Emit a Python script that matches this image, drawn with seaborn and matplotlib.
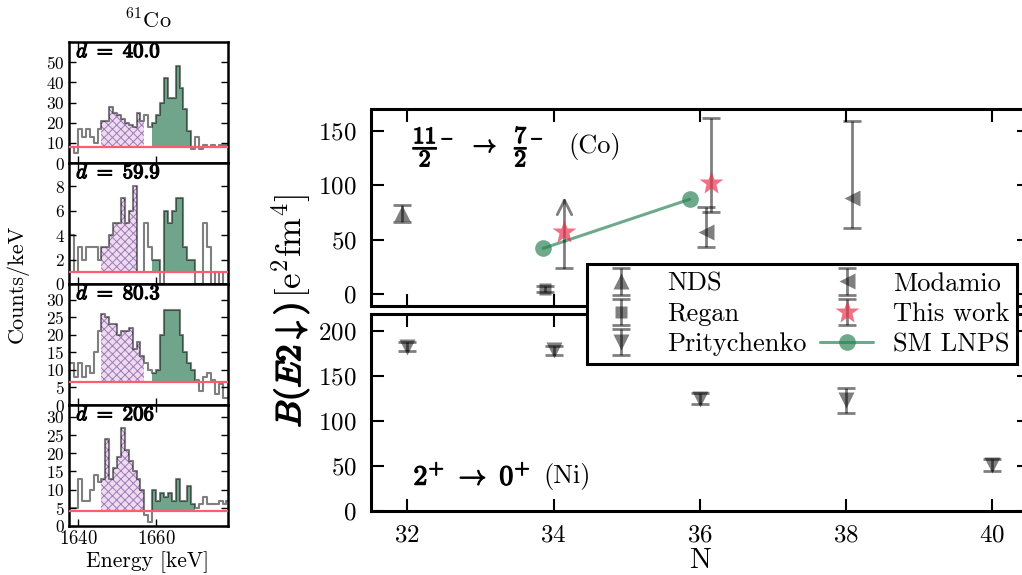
import numpy as np
import pandas as pd
import matplotlib
matplotlib.use("Agg")
import matplotlib.pyplot as plt
import matplotlib.patheffects as pe
import seaborn as sns

# ---------------- 61Co gamma spectra (counts/keV, 1 keV bins from 1637 keV) ----------------
bin_start_kev = 1637
spec_d40 = [8, 8, 5, 17, 13, 17, 13, 10, 17,
            21, 21, 28, 25, 24, 22, 20, 19, 18, 25, 21,
            24, 18,
            20, 24, 30, 42, 32, 32, 48, 37, 27, 16,
            7, 13, 7, 9, 8, 9, 8, 9, 9, 9]
spec_d60 = [4, 4, 1, 3, 2, 3, 3, 3, 2,
            3, 3, 4, 5, 5, 7, 5, 6, 8, 1, 1,
            5, 3,
            2, 2, 0, 6, 5, 6, 7, 7, 3, 2,
            2, 0, 0, 5, 3, 0, 1, 0, 1, 1]
spec_d80 = [12, 12, 8, 12, 8, 11, 9, 15, 21,
            26, 25, 23, 23, 20, 21, 21, 22, 16, 18, 14,
            12, 10,
            9, 10, 20, 27, 27, 27, 27, 20, 15, 12,
            10, 7, 4, 8, 9, 7, 3, 6, 2, 2]
spec_d206 = [5, 5, 5, 13, 7, 7, 10, 14, 12,
             13, 24, 13, 16, 19, 27, 21, 18, 15, 13, 10,
             3, 1,
             10, 7, 9, 8, 9, 7, 13, 7, 7, 11,
             6, 5, 6, 8, 6, 6, 6, 7, 6, 7]
spectra = [spec_d40, spec_d60, spec_d80, spec_d206]
distance_labels = ["40.0", "59.9", "80.3", "206"]
background_levels = [8.0, 1.0, 6.5, 4.0]
peak_a_window = (1646, 1657)   # hatched region
peak_b_window = (1659, 1670)   # green region

# ---------------- B(E2) systematics ----------------
nds_N, nds_B, nds_err = [32], [74], [8]
regan_N, regan_B, regan_err = [34], [4.5], [3]
modamio_N, modamio_B = [36, 38], [57, 88]
modamio_err_lo, modamio_err_hi = [14, 27], [23, 71]
thiswork_N, thiswork_B = [36], [102]
thiswork_err_lo, thiswork_err_hi = [27], [60]
thiswork_limit_N, thiswork_limit_B = [34], [57]
thiswork_limit_low, thiswork_limit_arrow = [24], [89]
sm_N, sm_B = [34, 36], [42, 87]
prit_N = [32, 34, 36, 38, 40]
prit_B = [183, 179, 125, 123, 51]
prit_err = [5, 5, 6, 14, 7]

# ---------------- style ----------------
sns.set_style("ticks")
plt.rcParams.update({
    "font.family": "serif",
    "font.serif": ["cmr10"],
    "mathtext.fontset": "cm",
    "axes.formatter.use_mathtext": True,
    "axes.unicode_minus": False,
    "hatch.linewidth": 0.7,
    "axes.edgecolor": "k",
    "xtick.color": "k",
    "ytick.color": "k",
    "text.color": "k",
    "axes.labelcolor": "k",
})

GRAY = (0, 0, 0, 0.5)
STAR_RED = (0.91, 0.19, 0.29, 0.68)
SM_GREEN = (0.16, 0.50, 0.33, 0.68)
FILL_GREEN = (0.18, 0.48, 0.33, 0.68)
BG_RED = "#ff5c70"
BOLD = [pe.withStroke(linewidth=0.9, foreground="k")]
x_shift = {"nds": -0.07, "regan": -0.11, "modamio": 0.08, "thiswork": 0.15,
           "sm": -0.14, "prit": 0.0}

W, H = 1022, 575
fig = plt.figure(figsize=(W / 100, H / 100), dpi=100)


def fig_rect(left, top, right, bottom):
    return [left / W, 1 - bottom / H, (right - left) / W, (bottom - top) / H]


# ---------------- left column: spectra ----------------
panel_ylims = [60, 9.9, 34.5, 33.3]
panel_yticks = [np.arange(0, 51, 10), np.arange(0, 9, 2),
                np.arange(0, 31, 5), np.arange(0, 31, 5)]
for i, spec in enumerate(spectra):
    top = 42 + 121 * i
    ax = fig.add_axes(fig_rect(69, top, 228, top + 121))
    counts = np.asarray(spec, dtype=float)
    edges = bin_start_kev + np.arange(len(counts) + 1)
    df = pd.DataFrame({"energy": edges[:-1] + 0.5, "counts": counts})
    bg = background_levels[i]
    upper = np.maximum(np.append(counts, counts[-1]), bg)

    m_a = (edges >= peak_a_window[0]) & (edges <= peak_a_window[1])
    ax.fill_between(edges, bg, upper, where=m_a, step="post",
                    facecolor="#ecdcf1", edgecolor="#a27ab5", hatch="xxxx",
                    linewidth=0, zorder=1)
    m_b = (edges >= peak_b_window[0]) & (edges <= peak_b_window[1])
    ax.fill_between(edges, bg, upper, where=m_b, step="post",
                    facecolor=FILL_GREEN, linewidth=0, zorder=1)

    sns.histplot(data=df, x="energy", weights="counts", bins=list(edges),
                 element="step", fill=False, color="k", alpha=0.5,
                 linewidth=1.5, ax=ax, zorder=3)
    ax.axhline(bg, color=BG_RED, lw=1.6, zorder=4)

    ax.set_xlim(1637.7, 1678.4)
    ax.set_ylim(0, panel_ylims[i])
    ax.set_yticks(panel_yticks[i])
    ax.set_xticks([1640, 1660])
    ax.set_xlabel("")
    ax.set_ylabel("")
    ax.tick_params(direction="in", top=True, right=True, length=5, width=1,
                   labelsize=12.5, pad=3)
    ax.tick_params(axis="x", labelsize=13.5)
    if i < 3:
        ax.tick_params(axis="x", labelbottom=False)
    for s in ax.spines.values():
        s.set_linewidth(1.8)
        s.set_visible(True)
    ax.text(0.045, 0.99, r"$d\ \mathbf{=\ %s}$" % distance_labels[i],
            transform=ax.transAxes, ha="left", va="top", fontsize=15,
            zorder=6, path_effects=BOLD)

fig.text(148 / W, 1 - 20 / H, r"$^{61}$Co", ha="center", va="center", fontsize=16)
fig.text(18 / W, 1 - 284 / H, "Counts/keV", rotation=90, ha="center",
         va="center", fontsize=16)
fig.text(148 / W, 1 - 562 / H, "Energy [keV]", ha="center", va="center",
         fontsize=15.5)

# ---------------- right column: B(E2) ----------------
ax_top = fig.add_axes(fig_rect(370.7, 109, 1028.8, 306))
ax_bot = fig.add_axes(fig_rect(370.7, 313.5, 1028.8, 510.7))

eb_kw = dict(ecolor=GRAY, elinewidth=2, capsize=6.5, capthick=2,
             linestyle="none", ms=11, mec="none")

h_nds = ax_top.errorbar(np.add(nds_N, x_shift["nds"]), nds_B, yerr=nds_err,
                        fmt="^", color=GRAY, **eb_kw)
h_regan = ax_top.errorbar(np.add(regan_N, x_shift["regan"]), regan_B,
                          yerr=regan_err, fmt="s", color=GRAY,
                          **{**eb_kw, "ms": 9})
h_mod = ax_top.errorbar(np.add(modamio_N, x_shift["modamio"]), modamio_B,
                        yerr=[modamio_err_lo, modamio_err_hi], fmt="<",
                        color=GRAY, **eb_kw)

# SM LNPS calculation
sns.lineplot(x=np.add(sm_N, x_shift["sm"]), y=sm_B, ax=ax_top, color=SM_GREEN,
             lw=2.2, marker="o", markersize=12, markeredgecolor="none",
             legend=False, zorder=3)
h_sm = ax_top.lines[-1]

# this work: measured value with error bar
h_tw = ax_top.errorbar(np.add(thiswork_N, x_shift["thiswork"]), thiswork_B,
                       yerr=[thiswork_err_lo, thiswork_err_hi], fmt="*",
                       color=STAR_RED, **{**eb_kw, "ms": 18})
# this work: lower limit
for n, b, lo, top in zip(thiswork_limit_N, thiswork_limit_B,
                         thiswork_limit_low, thiswork_limit_arrow):
    xn = n + x_shift["thiswork"]
    ax_top.annotate("", xy=(xn, top), xytext=(xn, lo),
                    arrowprops=dict(arrowstyle="->", color=GRAY, lw=2,
                                    mutation_scale=26, shrinkA=0, shrinkB=0))
    ax_top.plot([xn], [lo], marker="_", ms=13, mew=2, color=GRAY)
    ax_top.plot([xn], [b], marker="*", ms=18, mec="none", color=STAR_RED,
                linestyle="none", zorder=4)

h_prit = ax_bot.errorbar(np.add(prit_N, x_shift["prit"]), prit_B,
                         yerr=prit_err, fmt="v", color=GRAY, **eb_kw)

for ax in (ax_top, ax_bot):
    ax.set_xlim(31.5, 40.5)
    ax.set_xticks([32, 34, 36, 38, 40])
    ax.tick_params(direction="in", top=True, right=True, length=9, width=1.5,
                   labelsize=18, pad=10)
    for s in ax.spines.values():
        s.set_linewidth(2.2)
        s.set_visible(True)
    ax.set_xlabel("")
    ax.set_ylabel("")

ax_top.set_ylim(-11, 170)
ax_top.set_yticks([0, 50, 100, 150])
ax_top.tick_params(axis="x", labelbottom=False)
ax_bot.set_ylim(0, 220)
ax_bot.set_yticks([0, 50, 100, 150, 200])

ax_top.text(0.064, 0.81,
            r"$\dfrac{\mathbf{11}}{\mathbf{2}}^{-}\ \ \rightarrow\ \ "
            r"\dfrac{\mathbf{7}}{\mathbf{2}}^{-}$",
            transform=ax_top.transAxes, ha="left", va="center", fontsize=17,
            path_effects=BOLD)
ax_top.text(0.30, 0.81, "(Co)", transform=ax_top.transAxes, ha="left",
            va="center", fontsize=19)
ax_bot.text(0.065, 0.173, r"$\mathbf{2^{+}\ \rightarrow\ 0^{+}}$",
            transform=ax_bot.transAxes, ha="left", va="center", fontsize=20,
            path_effects=BOLD)
ax_bot.text(0.262, 0.173, "(Ni)", transform=ax_bot.transAxes, ha="left",
            va="center", fontsize=19)

# rotated y label, bold-italic symbol part below the unit part
ylab_x, ylab_y = 291 / W, 1 - 303 / H
fig.text(ylab_x, ylab_y, r"$B(E2\downarrow)$", rotation=90,
         rotation_mode="anchor", ha="right", va="center", fontsize=25,
         path_effects=[pe.withStroke(linewidth=1.2, foreground="k")])
fig.text(ylab_x, ylab_y, r"$\,[\mathrm{e}^{2}\mathrm{fm}^{4}]$", rotation=90,
         rotation_mode="anchor", ha="left", va="center", fontsize=25)
fig.text(700 / W, 1 - 561 / H, "N", ha="center", va="center", fontsize=21)

leg = fig.legend(handles=[h_nds, h_regan, h_prit, h_mod, h_tw, h_sm],
                 labels=["NDS", "Regan", "Pritychenko", "Modamio",
                         "This work", "SM LNPS"],
                 ncol=2, loc="upper left",
                 bbox_to_anchor=(587 / W, 1 - 264 / H), borderaxespad=0,
                 fontsize=19, frameon=True, fancybox=False, framealpha=1,
                 edgecolor="k", borderpad=0.3, labelspacing=0.25,
                 handlelength=2.0, handletextpad=0.75, columnspacing=0.5)
leg.get_frame().set_linewidth(2.2)

fig.savefig("out.png", dpi=100)
